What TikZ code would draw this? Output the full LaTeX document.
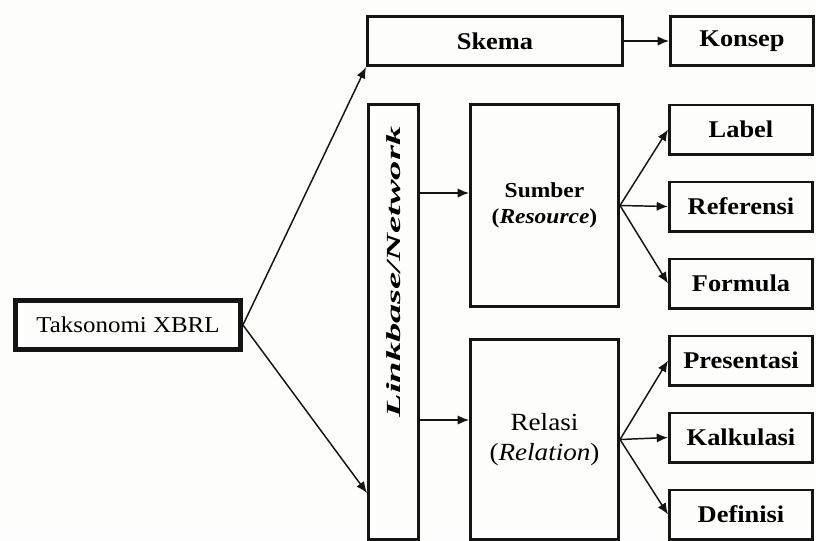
\documentclass[tikz,border=0pt]{standalone}
\usepackage{fontspec}
\setmainfont{Liberation Serif}[FakeStretch=1.1]
\usepackage{graphicx}
\usetikzlibrary{positioning, arrows.meta}
\definecolor{paper}{HTML}{FDFDF9}
\definecolor{ink}{HTML}{141414}

\begin{document}
\begin{tikzpicture}[
  x=0.75pt, y=-0.75pt,
  node distance=18.75pt,
  box/.style={draw=ink, fill=paper, line width=2pt, inner sep=2pt, align=center},
  leaf/.style={box, minimum width=107.5pt, minimum height=37pt,
               font=\fontsize{18}{21}\selectfont\bfseries},
  arr/.style={-{Latex[length=8.5pt, width=7pt]}, line width=1.1pt, color=ink}
]
\fill[paper] (0,0) rectangle (816,540);
\clip (0,0) rectangle (816,540);

% left root
\node[box, line width=3.4pt, minimum width=169pt, minimum height=37pt,
      font=\fontsize{17}{20}\selectfont] (tax) at (128,325) {Taksonomi XBRL};

% top row
\node[leaf, minimum width=191.5pt] (skema) at (495,41) {Skema};
\node[leaf, right=33.75pt of skema] (konsep) {Konsep};

% linkbase column
\node[box, minimum width=37.75pt, minimum height=326.5pt] (linkbase) at (393.5,322) {};
\node[rotate=90, font=\fontsize{15}{18}\selectfont] (linkbasetext) at (393.5,272)
  {\scalebox{1.75}[1]{\textbf{\textit{Linkbase/Network}}}};

% middle boxes
\node[box, minimum width=111.25pt, minimum height=151.75pt,
      font=\fontsize{16}{19}\selectfont\bfseries] (sumber) at (544.5,205.5)
  {Sumber\\(\textit{Resource})};
\node[box, minimum width=111.25pt, minimum height=150.25pt,
      font=\fontsize{18.5}{22}\selectfont] (relasi) at (544.5,439.5)
  {Relasi\\(\textit{Relation})};

% right column
\node[leaf] (label) at (741,129.5) {Label};
\node[leaf, below=of label] (referensi) {Referensi};
\node[leaf, below=of referensi] (formula) {Formula};
\node[leaf, below=of formula] (presentasi) {Presentasi};
\node[leaf, below=of presentasi] (kalkulasi) {Kalkulasi};
\node[leaf, below=of kalkulasi] (definisi) {Definisi};

\coordinate (lbin) at (367,493);

% connectors
\draw[arr] (tax.east) -- (skema.south west);
\draw[arr] (tax.east) -- (lbin);
\draw[arr] (skema) -- (konsep);
\draw[arr] (linkbase.east |- 0,193) -- (sumber.west |- 0,193);
\draw[arr] (linkbase.east |- 0,420) -- (relasi.west |- 0,420);
\foreach \t in {label, referensi, formula}
  \draw[arr] (sumber.east) -- (\t.west);
\foreach \t in {presentasi, kalkulasi, definisi}
  \draw[arr] (relasi.east) -- (\t.west);
\end{tikzpicture}
\end{document}
